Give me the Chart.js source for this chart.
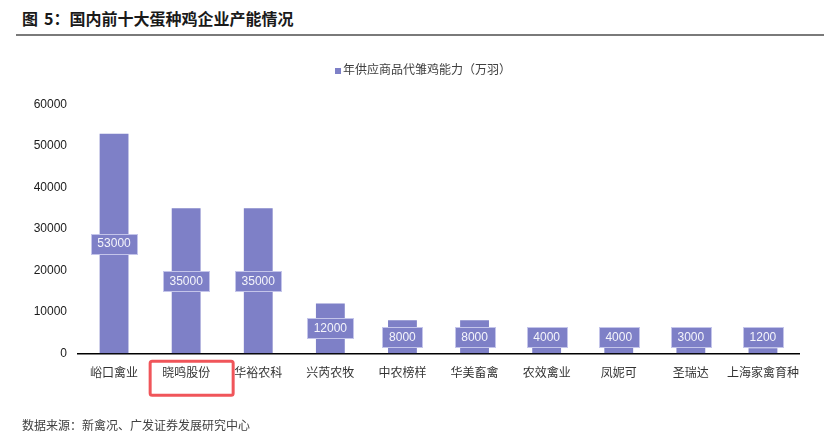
<!DOCTYPE html>
<html><head><meta charset="utf-8">
<script src="https://cdn.jsdelivr.net/npm/chart.js@4"></script>
<style>
html,body{margin:0;padding:0;background:#fff;width:824px;height:447px;overflow:hidden;}
#wrap{position:relative;width:824px;height:447px;}
#title{position:absolute;left:22px;top:7px;font-family:"Noto Sans CJK SC",sans-serif;font-weight:bold;font-size:16px;color:#1a1a1a;line-height:22px;white-space:pre;}
#title .n{margin-left:6px;}
#rule{position:absolute;left:16px;top:34px;width:808px;height:2px;background:#7a7a7a;}
#source{position:absolute;left:22px;top:416px;font-family:"Noto Sans CJK SC",sans-serif;font-size:12px;color:#404040;line-height:18px;white-space:nowrap;}
canvas{position:absolute;left:0;top:0;}
</style></head>
<body><div id="wrap">
<div id="title">图<span class="n">5：</span>国内前十大蛋种鸡企业产能情况</div>
<div id="rule"></div>
<canvas id="c" width="824" height="447"></canvas>
<div id="source">数据来源：新禽况、广发证券发展研究中心</div>
</div>
<script>
const categories = ['峪口禽业','晓鸣股份','华裕农科','兴芮农牧','中农榜样','华美畜禽','农效禽业','凤妮可','圣瑞达','上海家禽育种'];
const capacity = [53000,35000,35000,12000,8000,8000,4000,4000,3000,1200];
const yMin = 0, yMax = 60000, yStep = 10000;
const seriesName = '年供应商品代雏鸡能力（万羽）';
const highlighted = '晓鸣股份';

const BAR = '#7E80C7';
const NUMFONT = '12px "Liberation Sans", Arial, sans-serif';
const CJKFONT = '"Liberation Sans", "Noto Sans CJK SC", sans-serif';

const labelPlugin = {
  id: 'boxLabels',
  afterDatasetsDraw(chart) {
    const ctx = chart.ctx;
    const meta = chart.getDatasetMeta(0);
    const axisY = chart.scales.y.getPixelForValue(0);
    ctx.save();
    ctx.font = NUMFONT;
    ctx.textAlign = 'center';
    ctx.textBaseline = 'middle';
    meta.data.forEach((bar, i) => {
      const p = bar.getProps(['x','y','base'], true);
      const txt = String(capacity[i]);
      const w = Math.round(ctx.measureText(txt).width + 13);
      const h = 20;
      const cy = Math.min((p.y + p.base) / 2, axisY - 16);
      const x0 = Math.round(p.x - w / 2) + 0.5, y0 = Math.round(cy - h / 2) + 0.5;
      ctx.fillStyle = BAR;
      ctx.fillRect(x0, y0, w, h);
      ctx.strokeStyle = '#c4c5ea';
      ctx.lineWidth = 1;
      ctx.strokeRect(x0, y0, w, h);
      ctx.fillStyle = '#f4f4fb';
      ctx.fillText(txt, p.x, cy + 0.5);
    });
    ctx.restore();
  },
  afterDraw(chart) {
    const ctx = chart.ctx;
    ctx.save();
    ctx.font = '12px ' + CJKFONT;
    ctx.textBaseline = 'middle';
    ctx.textAlign = 'left';
    ctx.fillStyle = BAR;
    ctx.fillRect(335, 68, 6, 6);
    ctx.fillStyle = '#404040';
    ctx.fillText(seriesName, 343, 71);
    const idx = categories.indexOf(highlighted);
    const cx = chart.scales.x.getPixelForValue(idx);
    const axisY = chart.scales.y.getPixelForValue(0);
    const x = cx - 36, y = axisY + 8, w = 83, h = 34, r = 2;
    ctx.strokeStyle = '#F0555A';
    ctx.lineWidth = 3;
    ctx.beginPath();
    ctx.roundRect(x, y, w, h, r);
    ctx.stroke();
    ctx.restore();
  }
};

new Chart(document.getElementById('c'), {
  type: 'bar',
  data: {
    labels: categories,
    datasets: [{
      label: seriesName,
      data: capacity,
      backgroundColor: BAR,
      borderWidth: 0,
      barPercentage: 0.4,
      categoryPercentage: 1
    }]
  },
  options: {
    responsive: false,
    animation: false,
    devicePixelRatio: 1,
    layout: { padding: { top: 104.7, left: 0, right: 25, bottom: 447 - 353.3 - 40 } },
    plugins: { legend: { display: false }, tooltip: { enabled: false } },
    scales: {
      x: {
        grid: { display: false, drawTicks: false },
        border: { display: true, color: '#000', width: 1.5 },
        ticks: { font: { size: 12, family: CJKFONT }, color: '#333', padding: 13, maxRotation: 0, autoSkip: false },
        afterFit(s) { s.height = 40; }
      },
      y: {
        min: yMin, max: yMax,
        grid: { display: false, drawTicks: false },
        border: { display: false },
        ticks: { stepSize: yStep, font: { size: 12, family: '"Liberation Sans", Arial, sans-serif' }, color: '#1a1a1a', padding: 11, callback: v => String(v) },
        afterFit(s) { s.width = 78; }
      }
    }
  },
  plugins: [labelPlugin]
});
</script>
</body></html>
